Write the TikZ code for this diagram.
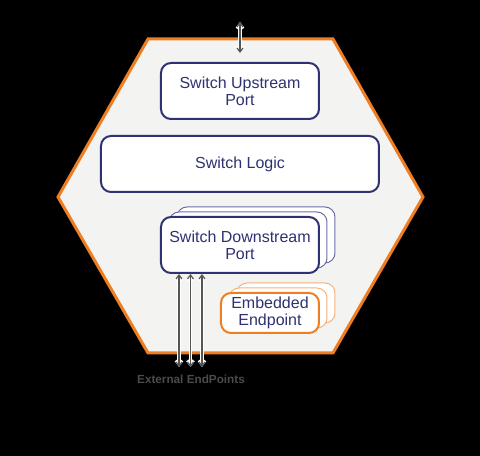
\documentclass[tikz,border=0pt]{standalone}
\usepackage{fontspec}
\setmainfont{Liberation Sans}
\usetikzlibrary{arrows.meta}
\definecolor{portblue}{HTML}{2E3272}
\definecolor{portblueback}{HTML}{6D70A8}
\definecolor{hexorange}{HTML}{EF7D22}
\definecolor{eporange}{HTML}{F7B27C}
\definecolor{hexfill}{HTML}{F3F3F1}
\definecolor{linkgray}{HTML}{555555}
\definecolor{extgray}{HTML}{4B4B4B}

\begin{document}
\begin{tikzpicture}[x=0.75pt,y=-0.75pt,
   portbox/.style={draw=portblue, line width=1.5pt, fill=white, rounded corners=7.5pt,
      text=portblue, align=center, inner sep=0pt, font=\fontsize{12}{12.8}\selectfont},
   portback/.style={portbox, draw=portblueback, line width=0.75pt},
   epbox/.style={portbox, draw=hexorange},
   epback/.style={portbox, draw=eporange, line width=0.75pt},
   link/.style={draw=linkgray, line width=0.9pt, {Straight Barb[length=3pt,width=4.5pt]}-{Straight Barb[length=3pt,width=4.5pt]},
      preaction={draw=white, line width=2.4pt}}]
\fill[black] (0,0) rectangle (480,456);
\filldraw[fill=hexfill, draw=hexorange, line width=2.25pt, line join=miter]
   (148,39) -- (333,39) -- (423,197) -- (333,353) -- (148,353) -- (58,197) -- cycle;
\node (up) [portbox, minimum width=118.5pt, minimum height=42pt] at (240,91) {Switch Upstream\\Port};
\node (logic) [portbox, minimum width=208.5pt, minimum height=42pt] at (240,164) {Switch Logic};
\node (down2) [portback, minimum width=118.5pt, minimum height=42pt] at (256,235) {};
\node (down1) [portback, minimum width=118.5pt, minimum height=42pt] at (248,240) {};
\node (down) [portbox, minimum width=118.5pt, minimum height=42pt] at (240,245) {Switch Downstream\\Port};
\node (ep2) [epback, minimum width=73.5pt, minimum height=30pt] at (286,303) {};
\node (ep1) [epback, minimum width=73.5pt, minimum height=30pt] at (278,308) {};
\node (ep) [epbox, minimum width=73.5pt, minimum height=30pt] at (270,313) {Embedded\\Endpoint};
\coordinate (uptop) at (240,22);
\coordinate (ext1) at (179,367);
\coordinate (ext2) at (190.5,367);
\coordinate (ext3) at (202,367);
\draw[link, shorten >=6.75pt] (uptop) -- (up.north);
\foreach \e in {ext1,ext2,ext3}
   \draw[link] (\e |- down.south) -- (\e);
\node (extlabel) [text=extgray, font=\bfseries\fontsize{8.8}{10}\selectfont] at (191,379) {External EndPoints};
\end{tikzpicture}
\end{document}
